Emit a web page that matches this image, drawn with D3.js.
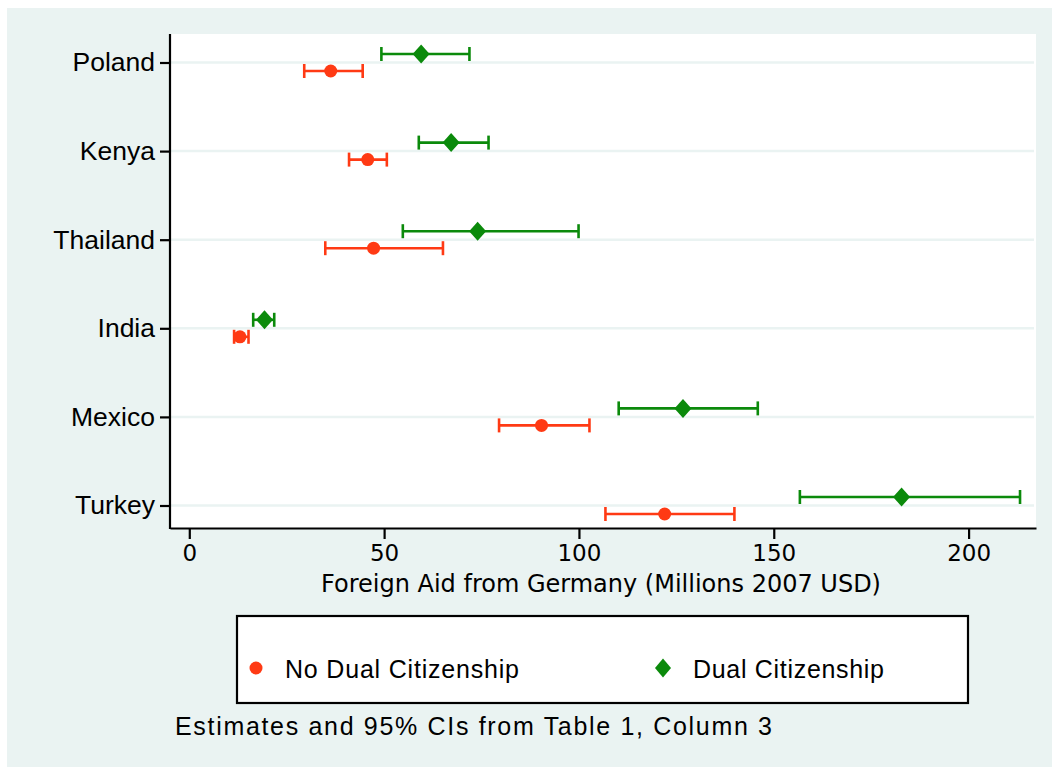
<!DOCTYPE html>
<html>
<head>
<meta charset="utf-8">
<script src="https://cdn.jsdelivr.net/npm/d3@7"></script>
<style>
  body { margin: 0; background: #ffffff; }
  svg { display: block; }
</style>
</head>
<body>
<div id="chart"></div>
<script>

// data (millions 2007 USD)
const countries = ["Poland", "Kenya", "Thailand", "India", "Mexico", "Turkey"];

const noDualEst = [36.3, 45.8, 47.3, 13.0, 90.4, 122.0];
const noDualLow = [29.5, 41.0, 34.9, 11.5, 79.5, 106.8];
const noDualHigh = [44.5, 50.7, 65.1, 15.2, 102.7, 139.9];

const dualEst = [59.5, 67.2, 74.0, 19.3, 126.7, 182.8];
const dualLow = [49.3, 58.9, 54.8, 16.4, 110.2, 156.7];
const dualHigh = [71.9, 76.8, 99.9, 21.8, 145.9, 213.2];

const xTicks = [0, 50, 100, 150, 200];

const legendLabels = ["No Dual Citizenship", "Dual Citizenship"];

const red = "#ff3a14";
const green = "#0b8a0b";
const bg = "#eaf3f2";

let width = 1052, height = 767;

let svg = d3.select("#chart").append("svg")
    .attr("width", width)
    .attr("height", height);

// outer background
svg.append("rect")
    .attr("x", 7).attr("y", 8)
    .attr("width", width - 7).attr("height", height - 8)
    .attr("fill", bg);

// plot area
let plot = {left: 170, right: 1036, top: 34, bottom: 528};

svg.append("rect")
    .attr("x", plot.left).attr("y", plot.top)
    .attr("width", plot.right - plot.left)
    .attr("height", plot.bottom - plot.top)
    .attr("fill", "white");

let x = d3.scaleLinear()
    .domain([-4.95, 217.3])
    .range([plot.left, plot.right]);

let y = d3.scaleLinear()
    .domain([0, countries.length - 1])
    .range([62.5, 505.5]);

// gridlines
svg.selectAll(".grid")
    .data(countries)
    .enter().append("line")
    .attr("class", "grid")
    .attr("x1", plot.left).attr("x2", plot.right - 2)
    .attr("y1", (d, i) => y(i)).attr("y2", (d, i) => y(i))
    .attr("stroke", bg)
    .attr("stroke-width", 2.5);

// axes
let xAxis = d3.axisBottom(x)
    .tickValues(xTicks)
    .tickSize(11)
    .tickPadding(6)
    .tickSizeOuter(0);

let gx = svg.append("g")
    .attr("transform", `translate(0, ${plot.bottom})`)
    .call(xAxis);

gx.select(".domain").attr("stroke", "black").attr("stroke-width", 2.2);
gx.selectAll(".tick line").attr("stroke", "black").attr("stroke-width", 2.2)
    .attr("y1", 1);
gx.selectAll(".tick text")
    .attr("fill", "black")
    .style("font-family", "'DejaVu Sans', sans-serif")
    .style("font-size", "23px");

let yAxis = d3.axisLeft(y)
    .tickValues(d3.range(countries.length))
    .tickFormat(i => countries[i])
    .tickSize(10)
    .tickPadding(5)
    .tickSizeOuter(0);

let gy = svg.append("g")
    .attr("transform", `translate(${plot.left}, 0)`)
    .call(yAxis);

gy.select(".domain").attr("stroke", "black").attr("stroke-width", 2.2)
    .attr("d", `M0,${plot.top}V${plot.bottom + 1}`);
gy.selectAll(".tick line").attr("stroke", "black").attr("stroke-width", 2.2);
gy.selectAll(".tick text")
    .attr("fill", "black")
    .style("font-family", "'Liberation Sans', Arial, sans-serif")
    .style("font-size", "26.5px");

// x axis title
svg.append("text")
    .attr("x", 601).attr("y", 592)
    .attr("text-anchor", "middle")
    .style("font-family", "'DejaVu Sans', sans-serif")
    .style("font-size", "24px")
    .text("Foreign Aid from Germany (Millions 2007 USD)");

// build rows for both series
let series = [
    {name: legendLabels[0], color: red, offset: 8.5, shape: "circle",
        rows: countries.map((c, i) => ({i: i, est: noDualEst[i], lo: noDualLow[i], hi: noDualHigh[i]}))},
    {name: legendLabels[1], color: green, offset: -8.5, shape: "diamond",
        rows: countries.map((c, i) => ({i: i, est: dualEst[i], lo: dualLow[i], hi: dualHigh[i]}))}
];

let capHalf = 7;

series.forEach(s => {
    let g = svg.append("g");

    // CI lines
    g.selectAll(".ci")
        .data(s.rows)
        .enter().append("line")
        .attr("x1", d => x(d.lo)).attr("x2", d => x(d.hi))
        .attr("y1", d => y(d.i) + s.offset).attr("y2", d => y(d.i) + s.offset)
        .attr("stroke", s.color).attr("stroke-width", 2.6);

    // caps
    ["lo", "hi"].forEach(k => {
        g.selectAll(".cap-" + k)
            .data(s.rows)
            .enter().append("line")
            .attr("x1", d => x(d[k])).attr("x2", d => x(d[k]))
            .attr("y1", d => y(d.i) + s.offset - capHalf)
            .attr("y2", d => y(d.i) + s.offset + capHalf)
            .attr("stroke", s.color).attr("stroke-width", 2.6);
    });

    // point estimate
    if (s.shape === "circle") {
        g.selectAll(".pt")
            .data(s.rows)
            .enter().append("circle")
            .attr("cx", d => x(d.est))
            .attr("cy", d => y(d.i) + s.offset)
            .attr("r", 6.5)
            .attr("fill", s.color);
    } else {
        g.selectAll(".pt")
            .data(s.rows)
            .enter().append("path")
            .attr("transform", d => `translate(${x(d.est)}, ${y(d.i) + s.offset})`)
            .attr("d", "M0,-9.5L8.5,0L0,9.5L-8.5,0Z")
            .attr("fill", s.color);
    }
});

// legend
let legend = svg.append("g");

legend.append("rect")
    .attr("x", 237).attr("y", 616)
    .attr("width", 731).attr("height", 87)
    .attr("fill", "white")
    .attr("stroke", "black")
    .attr("stroke-width", 2.2);

legend.append("circle")
    .attr("cx", 256).attr("cy", 668)
    .attr("r", 6.5)
    .attr("fill", red);

legend.append("text")
    .attr("x", 285).attr("y", 678)
    .attr("textLength", 234)
    .attr("lengthAdjust", "spacing")
    .style("font-family", "'Liberation Sans', Arial, sans-serif")
    .style("font-size", "25px")
    .text(legendLabels[0]);

legend.append("path")
    .attr("transform", "translate(663, 668)")
    .attr("d", "M0,-9.5L8,0L0,9.5L-8,0Z")
    .attr("fill", green);

legend.append("text")
    .attr("x", 693).attr("y", 678)
    .attr("textLength", 191)
    .attr("lengthAdjust", "spacing")
    .style("font-family", "'Liberation Sans', Arial, sans-serif")
    .style("font-size", "25px")
    .text(legendLabels[1]);

// note
svg.append("text")
    .attr("x", 175).attr("y", 735)
    .attr("textLength", 597)
    .attr("lengthAdjust", "spacing")
    .style("font-family", "'Liberation Sans', Arial, sans-serif")
    .style("font-size", "25px")
    .text("Estimates and 95% CIs from Table 1, Column 3");

</script>
</body>
</html>
